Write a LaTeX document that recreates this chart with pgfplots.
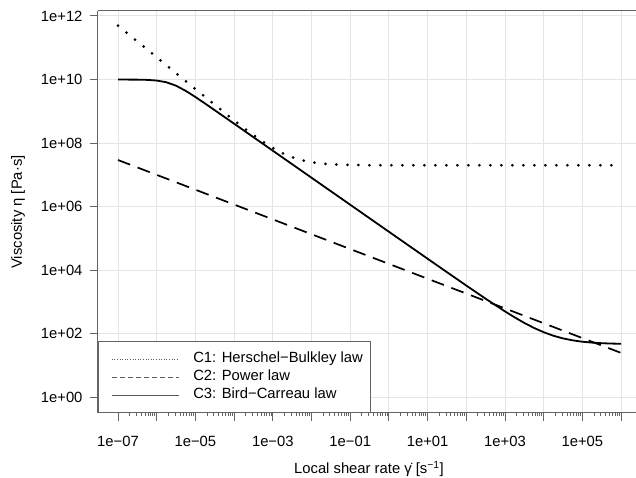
\documentclass[border=0pt]{standalone}
\usepackage{fontspec}
\setmainfont{Liberation Sans}
\usepackage{pgfplots}
\pgfplotsset{compat=1.18}
\definecolor{axgray}{RGB}{100,100,100}
\definecolor{gridgray}{RGB}{228,228,228}
\definecolor{leggray}{RGB}{90,90,90}
\newcommand{\rfont}{\fontsize{14.8pt}{17.8pt}\selectfont}

\begin{document}
\begin{tikzpicture}[x=1pt,y=1pt]
\begin{axis}[
  at={(98pt,65pt)}, anchor=south west,
  scale only axis, width=538pt, height=402pt,
  xmode=log, ymode=log,
  xmin=3.04e-8, xmax=2.427e6,
  ymin=0.3206, ymax=1.436e12,
  axis x line*=box, axis y line*=left,
  xtick pos=bottom, ytick pos=left,
  tick align=outside,
  major tick length=8.5pt,
  tick style={axgray, line width=1pt},
  axis line style={axgray, line width=1pt},
  grid=major,
  major grid style={gridgray, line width=1pt},
  xtick={1e-7,1e-6,1e-5,1e-4,1e-3,1e-2,1e-1,1,1e1,1e2,1e3,1e4,1e5,1e6},
  xticklabels={1e−07,,1e−05,,1e−03,,1e−01,,1e+01,,1e+03,,1e+05,},
  ytick={1,1e2,1e4,1e6,1e8,1e10,1e12},
  yticklabels={1e+00,1e+02,1e+04,1e+06,1e+08,1e+10,1e+12},
  xticklabel shift=11pt,
  yticklabel shift=3.5pt,
  tick label style={font=\rfont},
  label style={font=\rfont},
  xlabel={Local shear rate \.{γ} [s\textsuperscript{−1}]},
  ylabel={Viscosity η [Pa·s]},
  xlabel style={at={(axis description cs:0.5037,-0.139)}, anchor=center},
  ylabel style={at={(axis description cs:-0.1487,0.5)}, anchor=center},
  legend cell align=left,
  legend image code/.code={\path (0pt,0pt) (86pt,0pt); \draw[#1] (5pt,0pt) -- (72pt,0pt);},
  legend style={at={(0,0)}, anchor=south west, draw=axgray, line width=1pt,
    fill=white, inner xsep=8pt, inner ysep=10.5pt, row sep=4pt,
    nodes={inner sep=0pt, text height=11pt, text depth=3pt, font=\rfont}},
]
\addlegendimage{leggray, line width=0.8pt, dash pattern=on 1pt off 1.6pt}
\addlegendentry{C1: Herschel−Bulkley law}
\addlegendimage{leggray, line width=0.8pt, dash pattern=on 5pt off 3pt}
\addlegendentry{C2: Power law}
\addlegendimage{leggray, line width=0.8pt}
\addlegendentry{C3: Bird−Carreau law}

% C1 Herschel-Bulkley
\addplot[forget plot, black, line width=3pt, line cap=round, dash pattern=on 0pt off 11pt]
  coordinates {
  (1e-7,5.0e11) (3.162e-7,1.581e11) (1e-6,5.0e10) (3.162e-6,1.583e10)
  (1e-5,5.02e9) (3.162e-5,1.601e9) (1e-4,5.2e8) (1.778e-4,3.012e8)
  (3.162e-4,1.781e8) (5.623e-4,1.089e8) (1e-3,7.0e7) (1.778e-3,4.812e7)
  (3.162e-3,3.581e7) (5.623e-3,2.889e7) (1e-2,2.5e7) (1.778e-2,2.281e7)
  (3.162e-2,2.158e7) (5.623e-2,2.089e7) (1e-1,2.05e7) (3.162e-1,2.016e7)
  (1,2.005e7) (10,2.0005e7) (1e6,2.0e7)
  };

% C2 Power law
\addplot[forget plot, black, line width=1.7pt, dash pattern=on 13pt off 8pt]
  coordinates {(1e-7,2.931e7) (1e6,24.9)};

% C3 Bird-Carreau
\addplot[forget plot, black, line width=1.8pt]
  coordinates {
  (1e-7,9.992e9) (3.162e-7,9.922e9) (5.623e-7,9.760e9) (1e-6,9.300e9)
  (1.778e-6,8.214e9) (3.162e-6,6.396e9) (5.623e-6,4.403e9) (1e-5,2.822e9)
  (1.778e-5,1.757e9) (3.162e-5,1.082e9) (5.623e-5,6.645e8) (1e-4,4.076e8)
  (3.162e-4,1.532e8) (1e-3,5.757e7) (3.162e-3,2.164e7) (1e-2,8.133e6)
  (3.162e-2,3.057e6) (1e-1,1.149e6) (3.162e-1,4.317e5) (1,1.623e5)
  (3.162,6.099e4) (10,2.297e4) (31.62,8661) (100,3284) (316.2,1264)
  (1000,504.4) (1778,327.4) (3162,218.9) (5623,152.4) (1e4,111.6)
  (17783,86.6) (31623,71.3) (56234,61.9) (1e5,56.1) (177828,52.6)
  (316228,50.4) (562341,49.1) (1e6,48.3)
  };
\end{axis}
\pgfresetboundingbox
\path[use as bounding box] (0,0) rectangle (636,478);
\end{tikzpicture}
\end{document}
